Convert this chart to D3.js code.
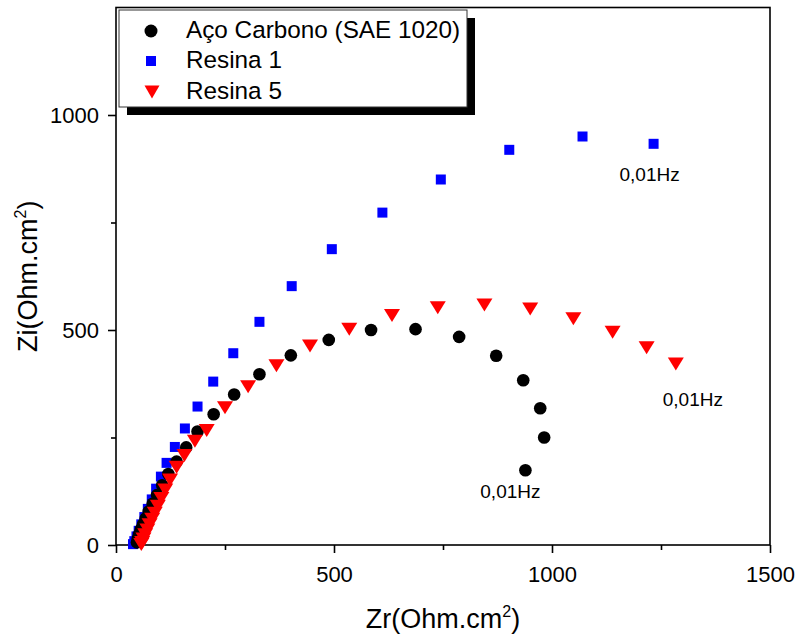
<!DOCTYPE html>
<html>
<head>
<meta charset="utf-8">
<script src="https://cdn.jsdelivr.net/npm/d3@7"></script>
<style>
  html, body { margin: 0; padding: 0; background: #fff; }
  svg { display: block; font-family: "Liberation Sans", Arial, sans-serif; }
</style>
</head>
<body>
<svg id="chart" width="797" height="637"></svg>
<script>
// Nyquist data: real part Zr and imaginary part Zi (Ohm.cm²), high to low frequency
const acoZr = [48, 50, 53, 57, 62, 68, 75, 84, 94, 106, 120, 139, 161, 187, 224, 271, 329, 401, 488, 585, 687, 787, 872, 934, 973, 982, 939];
const acoZi = [6, 15, 25, 36, 48, 62, 78, 96, 116, 139, 165, 194, 227, 264, 304, 350, 397, 441, 477, 500, 502, 484, 440, 383, 318, 250, 174];

const resina1Zr = [39, 42, 47, 52, 58, 65, 73, 82, 92, 103, 116, 135, 158, 187, 223, 269, 329, 403, 495, 611, 745, 902, 1070, 1233];
const resina1Zi = [2, 9, 20, 33, 48, 65, 84, 106, 131, 159, 191, 228, 271, 322, 380, 446, 519, 602, 688, 773, 850, 919, 950, 933];

const resina5Zr = [58, 60, 63, 67, 72, 77, 83, 89, 96, 104, 113, 124, 139, 157, 181, 208, 250, 303, 368, 445, 535, 633, 738, 845, 950, 1049, 1139, 1217, 1284];
const resina5Zi = [1, 6, 14, 24, 35, 47, 60, 74, 90, 108, 128, 151, 181, 208, 241, 266, 319, 368, 417, 463, 502, 534, 552, 558, 549, 526, 495, 459, 421];

const seriesNames = ["Aço Carbono (SAE 1020)", "Resina 1", "Resina 5"];
const xMajorTicks = [0, 500, 1000, 1500];
const xMinorTicks = [250, 750, 1250];
const yMajorTicks = [0, 500, 1000];
const yMinorTicks = [250, 750];
const freqLabel = "0,01Hz";

const svg = d3.select("#chart");
const x = d3.scaleLinear().domain([0, 1500]).range([116, 770]);
const y = d3.scaleLinear().domain([0, 1250]).range([545, 7.5]);

const toPoints = (zr, zi) => zr.map((v, i) => ({ zr: v, zi: zi[i] }));
const aco = toPoints(acoZr, acoZi);
const resina1 = toPoints(resina1Zr, resina1Zi);
const resina5 = toPoints(resina5Zr, resina5Zi);

// frame
const [x0, x1] = x.range();
const [y0, y1] = y.range();
svg.append("rect")
  .attr("x", x0).attr("y", y1)
  .attr("width", x1 - x0).attr("height", y0 - y1)
  .attr("fill", "none").attr("stroke", "#000").attr("stroke-width", 1.6);

// axes
function styleAxis(g, fontSize) {
  g.select(".domain").remove();
  g.selectAll(".tick line").attr("stroke", "#000").attr("stroke-width", 1.6);
  g.selectAll(".tick text").attr("fill", "#000").attr("font-size", fontSize)
    .attr("font-family", "'Liberation Sans', Arial, sans-serif");
}
const xAxis = svg.append("g").attr("transform", `translate(0,${y0})`)
  .call(d3.axisBottom(x).tickValues(xMajorTicks).tickSize(8).tickPadding(13).tickFormat(d3.format("d")));
styleAxis(xAxis, 22);
const xMinor = svg.append("g").attr("transform", `translate(0,${y0})`)
  .call(d3.axisBottom(x).tickValues(xMinorTicks).tickSize(5).tickFormat(""));
styleAxis(xMinor, 22);

const yAxis = svg.append("g").attr("transform", `translate(${x0},0)`)
  .call(d3.axisLeft(y).tickValues(yMajorTicks).tickSize(8).tickPadding(9).tickFormat(d3.format("d")));
styleAxis(yAxis, 22);
yAxis.selectAll(".tick text").attr("dy", "0.36em");
const yMinor = svg.append("g").attr("transform", `translate(${x0},0)`)
  .call(d3.axisLeft(y).tickValues(yMinorTicks).tickSize(5).tickFormat(""));
styleAxis(yMinor, 22);

// axis titles
const xt = svg.append("text")
  .attr("x", (x0 + x1) / 2).attr("y", 628)
  .attr("text-anchor", "middle").attr("font-size", 27).attr("fill", "#000");
xt.append("tspan").text("Zr(Ohm.cm");
xt.append("tspan").attr("font-size", 16).attr("dy", -11).text("2");
xt.append("tspan").attr("dy", 11).text(")");

const yt = svg.append("text")
  .attr("transform", `translate(37,${(y0 + y1) / 2}) rotate(-90)`)
  .attr("text-anchor", "middle").attr("font-size", 27).attr("fill", "#000");
yt.append("tspan").text("Zi(Ohm.cm");
yt.append("tspan").attr("font-size", 16).attr("dy", -11).text("2");
yt.append("tspan").attr("dy", 11).text(")");

// markers
const triPath = "M-8,-6.5L8,-6.5L0,6.5Z";
const squareSide = 10;

svg.append("g").selectAll("rect").data(resina1).join("rect")
  .attr("x", d => x(d.zr) - squareSide / 2)
  .attr("y", d => y(d.zi) - squareSide / 2)
  .attr("width", squareSide).attr("height", squareSide)
  .attr("fill", "#0000ff");

svg.append("g").selectAll("circle").data(aco).join("circle")
  .attr("cx", d => x(d.zr)).attr("cy", d => y(d.zi)).attr("r", 6.3)
  .attr("fill", "#000");

svg.append("g").selectAll("path").data(resina5).join("path")
  .attr("d", triPath)
  .attr("transform", d => `translate(${x(d.zr)},${y(d.zi)})`)
  .attr("fill", "#ff0000");

// low-frequency annotations next to the last point of each series
const lastOf = arr => arr[arr.length - 1];
const notes = [
  { p: lastOf(resina1), dx: -4, dy: 37 },
  { p: lastOf(resina5), dx: 17, dy: 42 },
  { p: lastOf(aco), dx: -15, dy: 28 }
];
svg.append("g").selectAll("text").data(notes).join("text")
  .attr("x", d => x(d.p.zr) + d.dx)
  .attr("y", d => y(d.p.zi) + d.dy)
  .attr("text-anchor", "middle").attr("font-size", 19).attr("fill", "#000")
  .text(freqLabel);

// legend with drop shadow
const legend = svg.append("g");
legend.append("rect").attr("x", 127).attr("y", 18).attr("width", 348).attr("height", 97).attr("fill", "#000");
legend.append("rect").attr("x", 119).attr("y", 10).attr("width", 348).attr("height", 97)
  .attr("fill", "#fff").attr("stroke", "#333").attr("stroke-width", 1);

const legendRows = [31, 61, 92];
legend.append("circle").attr("cx", 151).attr("cy", legendRows[0]).attr("r", 6.5).attr("fill", "#000");
legend.append("rect").attr("x", 146).attr("y", legendRows[1] - 5).attr("width", 10).attr("height", 10).attr("fill", "#0000ff");
legend.append("path").attr("d", "M-7.5,-6.5L7.5,-6.5L0,6.5Z")
  .attr("transform", `translate(152,${legendRows[2]})`).attr("fill", "#ff0000");

legend.selectAll("text.lab").data(seriesNames).join("text")
  .attr("class", "lab")
  .attr("x", 186).attr("y", (d, i) => legendRows[i] + 7)
  .attr("font-size", 24.3).attr("fill", "#000")
  .text(d => d);
</script>
</body>
</html>
